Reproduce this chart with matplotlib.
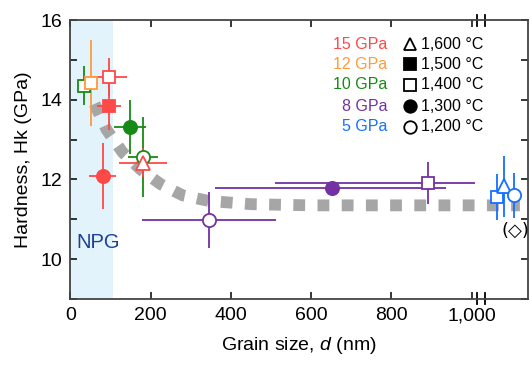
import matplotlib
matplotlib.use('Agg')
import matplotlib.pyplot as plt
from matplotlib.ticker import MultipleLocator
import matplotlib.transforms as mtrans

plt.rcParams['font.family'] = ['Liberation Sans', 'DejaVu Sans']
plt.rcParams['mathtext.fontset'] = 'custom'
plt.rcParams['mathtext.it'] = 'Liberation Sans:italic'
plt.rcParams['mathtext.rm'] = 'Liberation Sans'

### data ----

pressure = [10, 12, 15, 15, 15, 10, 10, 15, 8, 8, 8, 5, 5, 5]
temperature = [1400, 1400, 1400, 1500, 1300, 1300, 1200, 1600, 1200, 1300, 1400, 1400, 1600, 1200]
grain = [34, 51, 97, 96, 80, 148, 181, 181, 345, 651, 890, 1062, 1081, 1105]
grain_err_lo = [10, 18, 44, 31, 33, 40, 38, 59, 166, 291, 381, 0, 0, 0]
grain_err_hi = [10, 18, 44, 31, 33, 40, 38, 59, 166, 286, 119, 0, 0, 0]
hardness = [14.36, 14.43, 14.57, 13.85, 12.09, 13.32, 12.57, 12.42, 10.99, 11.79, 11.91, 11.56, 11.83, 11.60]
hardness_err = [0.5, 1.08, 0.48, 0.6, 0.83, 0.68, 1.0, 0.36, 0.7, 0.0, 0.53, 0.57, 0.76, 0.57]

# trend (grey dotted guide)
trend_d = [60, 90, 130, 175, 225, 280, 345, 450, 600, 800, 1000, 1120]
trend_hk = [13.9, 13.25, 12.68, 12.25, 11.88, 11.6, 11.46, 11.38, 11.35, 11.35, 11.35, 11.35]

npg_limit = 105

legend_pressures = [15, 12, 10, 8, 5]
legend_temps = [1600, 1500, 1400, 1300, 1200]

### styles ----

colors = {15: '#ff4848', 12: '#ff9a3a', 10: '#168a16', 8: '#7331a4', 5: '#1470ff'}
markers = {1600: ('^', False), 1500: ('s', True), 1400: ('s', False),
           1300: ('o', True), 1200: ('o', False)}

### plot ----

fig = plt.figure(figsize=(5.3, 3.69), dpi=100)
ax = fig.add_axes([0.133, 0.19, 0.863, 0.755])

ax.axvspan(0, npg_limit, color='#e3f3fb', lw=0, zorder=0)
ax.text(15, 10.41, 'NPG', color='#1c3f98', fontsize=14.5, va='center', ha='left')

ax.plot(trend_d, trend_hk, color='#a6a6a6', lw=8.5, dashes=(1, 1.05),
        dash_capstyle='butt', zorder=1)

for i in range(len(grain)):
    c = colors[pressure[i]]
    m, filled = markers[temperature[i]]
    ax.errorbar(grain[i], hardness[i],
                xerr=[[grain_err_lo[i]], [grain_err_hi[i]]],
                yerr=hardness_err[i], fmt='none', ecolor=c, elinewidth=1.3,
                capsize=0, zorder=2)
    ms = 8.5 if m == 's' else 9.5
    ax.plot(grain[i], hardness[i], marker=m, ms=ms, mew=1.3, mec=c,
            mfc=c if filled else 'white', ls='none', zorder=3)

ax.text(1110, 10.71, '(◇)', fontsize=13, ha='center', va='center',
        family=['DejaVu Sans'])

### legend (drawn by hand) ----

rows_y = [0.914, 0.842, 0.768, 0.692, 0.617]
for yy, p, t in zip(rows_y, legend_pressures, legend_temps):
    ax.text(0.692, yy, '%d GPa' % p, color=colors[p], fontsize=11.5,
            ha='right', va='center', transform=ax.transAxes)
    m, filled = markers[t]
    ax.plot(0.742, yy, marker=m, ms=9 if m != 's' else 8, mew=1.3, mec='black',
            mfc='black' if filled else 'white', transform=ax.transAxes,
            clip_on=False)
    ax.text(0.766, yy, '{:,} °C'.format(t), fontsize=11.5, ha='left',
            va='center', transform=ax.transAxes)

### axes ----

ax.set_xlim(0, 1140)
ax.set_ylim(9, 16)
ax.set_xticks([0, 200, 400, 600, 800, 1000])
ax.set_xticklabels(['0', '200', '400', '600', '800', '1,000'])
ax.yaxis.set_major_locator(MultipleLocator(2))
ax.yaxis.set_minor_locator(MultipleLocator(1))
ax.tick_params(which='both', direction='in', length=5, width=1.1,
               top=True, right=True, labelsize=14, color='black', pad=6)

for s in ax.spines.values():
    s.set_color('#444444')
    s.set_linewidth(1.3)

ax.set_xlabel('Grain size, $d$ (nm)', fontsize=14, labelpad=8)
ax.set_ylabel('Hardness, Hk (GPa)', fontsize=14, labelpad=6)

# axis break marks
trans = mtrans.blended_transform_factory(ax.transData, ax.transAxes)
for xb in [1014, 1032]:
    ax.plot([xb, xb], [-0.02, 0.022], color='black', lw=1.3,
            transform=trans, clip_on=False)
    ax.plot([xb, xb], [0.978, 1.02], color='black', lw=1.3,
            transform=trans, clip_on=False)

plt.savefig('out.png', dpi=100)
